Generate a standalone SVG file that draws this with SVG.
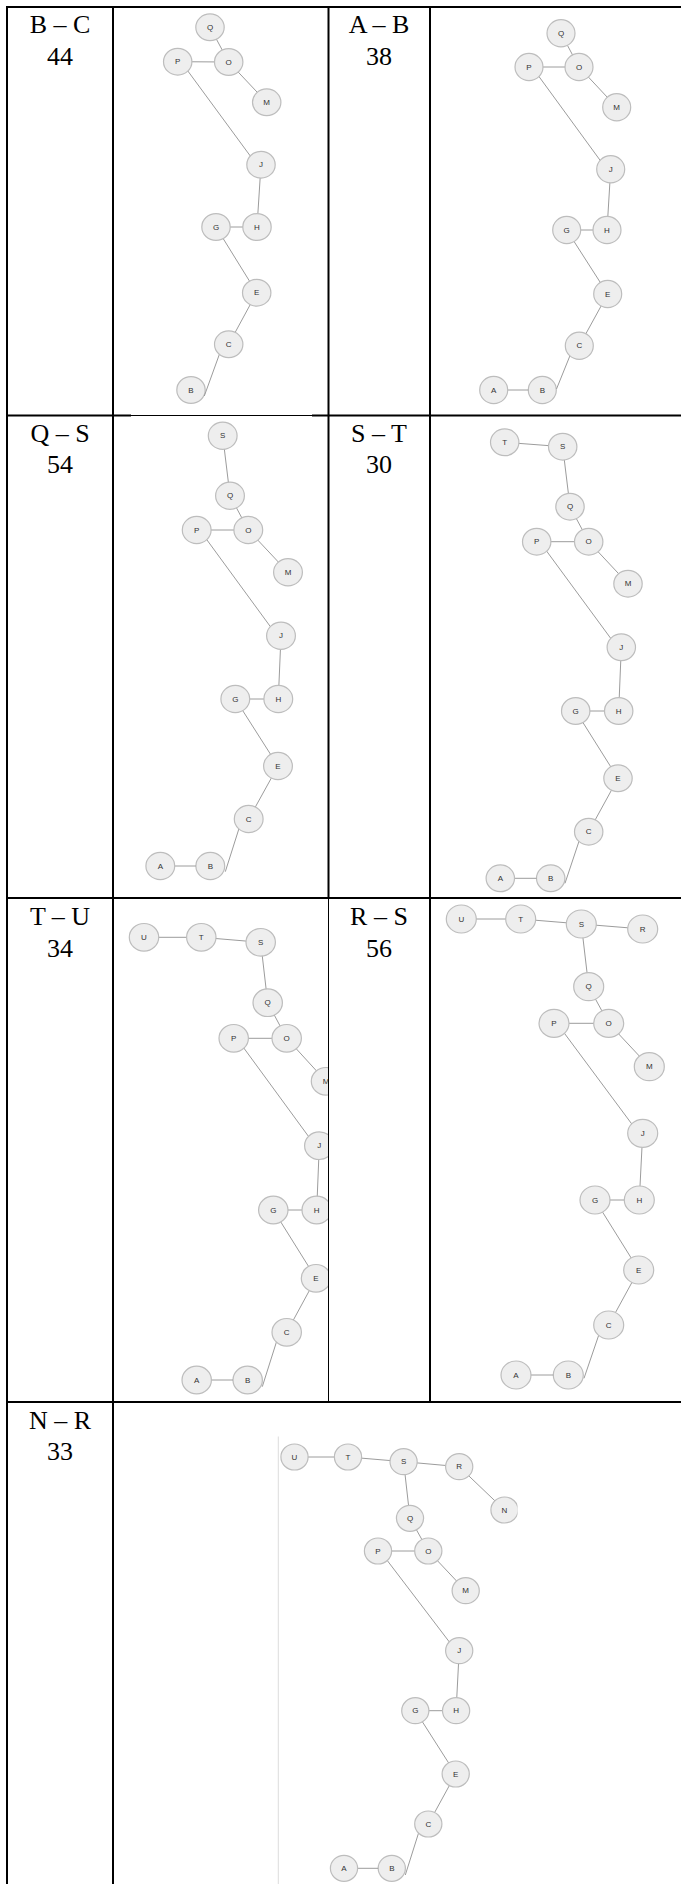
<svg xmlns="http://www.w3.org/2000/svg" width="681" height="1884" viewBox="0 0 681 1884">
<style>
.grid{stroke:#000;stroke-width:2;fill:none}
.thin{stroke:#000;stroke-width:1;fill:none}
.lbl{font-family:"Liberation Serif","Times New Roman",serif;font-size:26px;fill:#000;text-anchor:middle}
.edges line{stroke:#9c9c9c;stroke-width:1}
.node ellipse{fill:#eeeeee;stroke:#bdbdbd;stroke-width:1.2}
.node text{font-family:"Liberation Sans",Arial,sans-serif;font-size:8px;fill:#333;text-anchor:middle;dominant-baseline:central}
</style>
<defs>
<clipPath id="clip5"><rect x="114" y="899" width="214" height="502"/></clipPath>
<clipPath id="clip7"><rect x="114" y="1403" width="403.5" height="481"/></clipPath>
</defs>
<rect width="681" height="1884" fill="#fff"/>

<!-- Panel 1: B – C -->
<g id="panel1">
<g id="p1-B" class="node"><ellipse cx="191" cy="390" rx="14.2" ry="13.4"/><text x="191" y="390">B</text></g>
<g id="p1-edges" class="edges">
<line x1="210" y1="27.3" x2="228.7" y2="62"/>
<line x1="177.7" y1="61.7" x2="228.7" y2="62"/>
<line x1="228.7" y1="62" x2="266.7" y2="102.3"/>
<line x1="181" y1="61.7" x2="256.7" y2="164.7"/>
<line x1="261" y1="164.7" x2="257" y2="227"/>
<line x1="216" y1="227" x2="257" y2="227"/>
<line x1="216" y1="227" x2="256.7" y2="292.7"/>
<line x1="256.7" y1="292.7" x2="228.7" y2="344.3"/>
<line x1="223" y1="344.3" x2="204.3" y2="396"/>
</g>
<g id="p1-Q" class="node"><ellipse cx="210" cy="27.3" rx="14.2" ry="13.4"/><text x="210" y="27.3">Q</text></g>
<g id="p1-P" class="node"><ellipse cx="177.7" cy="61.7" rx="14.2" ry="13.4"/><text x="177.7" y="61.7">P</text></g>
<g id="p1-O" class="node"><ellipse cx="228.7" cy="62" rx="14.2" ry="13.4"/><text x="228.7" y="62">O</text></g>
<g id="p1-M" class="node"><ellipse cx="266.7" cy="102.3" rx="14.2" ry="13.4"/><text x="266.7" y="102.3">M</text></g>
<g id="p1-J" class="node"><ellipse cx="261" cy="164.7" rx="14.2" ry="13.4"/><text x="261" y="164.7">J</text></g>
<g id="p1-H" class="node"><ellipse cx="257" cy="227" rx="14.2" ry="13.4"/><text x="257" y="227">H</text></g>
<g id="p1-G" class="node"><ellipse cx="216" cy="227" rx="14.2" ry="13.4"/><text x="216" y="227">G</text></g>
<g id="p1-E" class="node"><ellipse cx="256.7" cy="292.7" rx="14.2" ry="13.4"/><text x="256.7" y="292.7">E</text></g>
<g id="p1-C" class="node"><ellipse cx="228.7" cy="344.3" rx="14.2" ry="13.4"/><text x="228.7" y="344.3">C</text></g>
</g>

<!-- Panel 2: A – B -->
<g id="panel2">
<g id="p2-B" class="node"><ellipse cx="542.3" cy="390" rx="14" ry="13.6"/><text x="542.3" y="390">B</text></g>
<g id="p2-edges" class="edges">
<line x1="561" y1="33.3" x2="579" y2="67"/>
<line x1="529" y1="67" x2="579" y2="67"/>
<line x1="579" y1="67" x2="616.7" y2="107.3"/>
<line x1="532" y1="67" x2="606.7" y2="169.3"/>
<line x1="610.7" y1="169.3" x2="607" y2="230"/>
<line x1="566.7" y1="230" x2="607" y2="230"/>
<line x1="566.7" y1="230" x2="607.7" y2="294"/>
<line x1="607.7" y1="294" x2="579.3" y2="345.7"/>
<line x1="574" y1="345.7" x2="556.5" y2="389"/>
<line x1="493.7" y1="390" x2="528.3" y2="390"/>
</g>
<g id="p2-Q" class="node"><ellipse cx="561" cy="33.3" rx="14" ry="13.6"/><text x="561" y="33.3">Q</text></g>
<g id="p2-P" class="node"><ellipse cx="529" cy="67" rx="14" ry="13.6"/><text x="529" y="67">P</text></g>
<g id="p2-O" class="node"><ellipse cx="579" cy="67" rx="14" ry="13.6"/><text x="579" y="67">O</text></g>
<g id="p2-M" class="node"><ellipse cx="616.7" cy="107.3" rx="14" ry="13.6"/><text x="616.7" y="107.3">M</text></g>
<g id="p2-J" class="node"><ellipse cx="610.7" cy="169.3" rx="14" ry="13.6"/><text x="610.7" y="169.3">J</text></g>
<g id="p2-H" class="node"><ellipse cx="607" cy="230" rx="14" ry="13.6"/><text x="607" y="230">H</text></g>
<g id="p2-G" class="node"><ellipse cx="566.7" cy="230" rx="14" ry="13.6"/><text x="566.7" y="230">G</text></g>
<g id="p2-E" class="node"><ellipse cx="607.7" cy="294" rx="14" ry="13.6"/><text x="607.7" y="294">E</text></g>
<g id="p2-C" class="node"><ellipse cx="579.3" cy="345.7" rx="14" ry="13.6"/><text x="579.3" y="345.7">C</text></g>
<g id="p2-A" class="node"><ellipse cx="493.7" cy="390" rx="14" ry="13.6"/><text x="493.7" y="390">A</text></g>
</g>

<!-- Panel 3: Q – S -->
<g id="panel3">
<g id="p3-B" class="node"><ellipse cx="210.3" cy="866" rx="14.4" ry="13.6"/><text x="210.3" y="866">B</text></g>
<g id="p3-edges" class="edges">
<line x1="222.7" y1="435.7" x2="230" y2="495.7"/>
<line x1="230" y1="495.7" x2="248.3" y2="530"/>
<line x1="196.7" y1="530" x2="248.3" y2="530"/>
<line x1="248.3" y1="530" x2="288" y2="572.3"/>
<line x1="199.7" y1="530" x2="277" y2="635.7"/>
<line x1="281" y1="635.7" x2="278.3" y2="699"/>
<line x1="235.3" y1="699" x2="278.3" y2="699"/>
<line x1="235.3" y1="699" x2="278" y2="766"/>
<line x1="278" y1="766" x2="248.7" y2="819"/>
<line x1="242" y1="819" x2="225.3" y2="871.7"/>
<line x1="160.3" y1="866" x2="195.9" y2="866"/>
</g>
<g id="p3-S" class="node"><ellipse cx="222.7" cy="435.7" rx="14.4" ry="13.6"/><text x="222.7" y="435.7">S</text></g>
<g id="p3-Q" class="node"><ellipse cx="230" cy="495.7" rx="14.4" ry="13.6"/><text x="230" y="495.7">Q</text></g>
<g id="p3-P" class="node"><ellipse cx="196.7" cy="530" rx="14.4" ry="13.6"/><text x="196.7" y="530">P</text></g>
<g id="p3-O" class="node"><ellipse cx="248.3" cy="530" rx="14.4" ry="13.6"/><text x="248.3" y="530">O</text></g>
<g id="p3-M" class="node"><ellipse cx="288" cy="572.3" rx="14.4" ry="13.6"/><text x="288" y="572.3">M</text></g>
<g id="p3-J" class="node"><ellipse cx="281" cy="635.7" rx="14.4" ry="13.6"/><text x="281" y="635.7">J</text></g>
<g id="p3-H" class="node"><ellipse cx="278.3" cy="699" rx="14.4" ry="13.6"/><text x="278.3" y="699">H</text></g>
<g id="p3-G" class="node"><ellipse cx="235.3" cy="699" rx="14.4" ry="13.6"/><text x="235.3" y="699">G</text></g>
<g id="p3-E" class="node"><ellipse cx="278" cy="766" rx="14.4" ry="13.6"/><text x="278" y="766">E</text></g>
<g id="p3-C" class="node"><ellipse cx="248.7" cy="819" rx="14.4" ry="13.6"/><text x="248.7" y="819">C</text></g>
<g id="p3-A" class="node"><ellipse cx="160.3" cy="866" rx="14.4" ry="13.6"/><text x="160.3" y="866">A</text></g>
</g>

<!-- Panel 4: S – T -->
<g id="panel4">
<g id="p4-B" class="node"><ellipse cx="550.7" cy="878.3" rx="14.2" ry="13.4"/><text x="550.7" y="878.3">B</text></g>
<g id="p4-edges" class="edges">
<line x1="504.7" y1="442.3" x2="562.7" y2="446.7"/>
<line x1="562.7" y1="446.7" x2="570" y2="506.7"/>
<line x1="570" y1="506.7" x2="588.7" y2="541.7"/>
<line x1="536.7" y1="541.7" x2="588.7" y2="541.7"/>
<line x1="588.7" y1="541.7" x2="628" y2="583.7"/>
<line x1="539.7" y1="541.7" x2="617.3" y2="647.3"/>
<line x1="621.3" y1="647.3" x2="618.7" y2="711"/>
<line x1="575.7" y1="711" x2="618.7" y2="711"/>
<line x1="575.7" y1="711" x2="618" y2="778.3"/>
<line x1="618" y1="778.3" x2="588.7" y2="831.7"/>
<line x1="582.2" y1="831.7" x2="565" y2="883.3"/>
<line x1="500.3" y1="878.3" x2="536.5" y2="878.3"/>
</g>
<g id="p4-T" class="node"><ellipse cx="504.7" cy="442.3" rx="14.2" ry="13.4"/><text x="504.7" y="442.3">T</text></g>
<g id="p4-S" class="node"><ellipse cx="562.7" cy="446.7" rx="14.2" ry="13.4"/><text x="562.7" y="446.7">S</text></g>
<g id="p4-Q" class="node"><ellipse cx="570" cy="506.7" rx="14.2" ry="13.4"/><text x="570" y="506.7">Q</text></g>
<g id="p4-P" class="node"><ellipse cx="536.7" cy="541.7" rx="14.2" ry="13.4"/><text x="536.7" y="541.7">P</text></g>
<g id="p4-O" class="node"><ellipse cx="588.7" cy="541.7" rx="14.2" ry="13.4"/><text x="588.7" y="541.7">O</text></g>
<g id="p4-M" class="node"><ellipse cx="628" cy="583.7" rx="14.2" ry="13.4"/><text x="628" y="583.7">M</text></g>
<g id="p4-J" class="node"><ellipse cx="621.3" cy="647.3" rx="14.2" ry="13.4"/><text x="621.3" y="647.3">J</text></g>
<g id="p4-H" class="node"><ellipse cx="618.7" cy="711" rx="14.2" ry="13.4"/><text x="618.7" y="711">H</text></g>
<g id="p4-G" class="node"><ellipse cx="575.7" cy="711" rx="14.2" ry="13.4"/><text x="575.7" y="711">G</text></g>
<g id="p4-E" class="node"><ellipse cx="618" cy="778.3" rx="14.2" ry="13.4"/><text x="618" y="778.3">E</text></g>
<g id="p4-C" class="node"><ellipse cx="588.7" cy="831.7" rx="14.2" ry="13.4"/><text x="588.7" y="831.7">C</text></g>
<g id="p4-A" class="node"><ellipse cx="500.3" cy="878.3" rx="14.2" ry="13.4"/><text x="500.3" y="878.3">A</text></g>
</g>

<!-- Panel 5: T – U (clipped at right) -->
<g id="panel5" clip-path="url(#clip5)">
<g id="p5-B" class="node"><ellipse cx="247.7" cy="1380" rx="14.7" ry="13.8"/><text x="247.7" y="1380">B</text></g>
<g id="p5-edges" class="edges">
<line x1="144" y1="937.3" x2="201.3" y2="937.3"/>
<line x1="201.3" y1="937.3" x2="260.7" y2="942.3"/>
<line x1="260.7" y1="942.3" x2="267.7" y2="1002.7"/>
<line x1="267.7" y1="1002.7" x2="286.7" y2="1038.3"/>
<line x1="233.7" y1="1038.3" x2="286.7" y2="1038.3"/>
<line x1="286.7" y1="1038.3" x2="326" y2="1081.3"/>
<line x1="236.7" y1="1038.3" x2="315.3" y2="1145.7"/>
<line x1="319.3" y1="1145.7" x2="316.7" y2="1210"/>
<line x1="273.3" y1="1210" x2="316.7" y2="1210"/>
<line x1="273.3" y1="1210" x2="316" y2="1278.3"/>
<line x1="316" y1="1278.3" x2="286.7" y2="1332.3"/>
<line x1="279.5" y1="1332.3" x2="262.3" y2="1386.7"/>
<line x1="196.7" y1="1380" x2="233" y2="1380"/>
</g>
<g id="p5-U" class="node"><ellipse cx="144" cy="937.3" rx="14.7" ry="13.8"/><text x="144" y="937.3">U</text></g>
<g id="p5-T" class="node"><ellipse cx="201.3" cy="937.3" rx="14.7" ry="13.8"/><text x="201.3" y="937.3">T</text></g>
<g id="p5-S" class="node"><ellipse cx="260.7" cy="942.3" rx="14.7" ry="13.8"/><text x="260.7" y="942.3">S</text></g>
<g id="p5-Q" class="node"><ellipse cx="267.7" cy="1002.7" rx="14.7" ry="13.8"/><text x="267.7" y="1002.7">Q</text></g>
<g id="p5-P" class="node"><ellipse cx="233.7" cy="1038.3" rx="14.7" ry="13.8"/><text x="233.7" y="1038.3">P</text></g>
<g id="p5-O" class="node"><ellipse cx="286.7" cy="1038.3" rx="14.7" ry="13.8"/><text x="286.7" y="1038.3">O</text></g>
<g id="p5-M" class="node"><ellipse cx="326" cy="1081.3" rx="14.7" ry="13.8"/><text x="326" y="1081.3">M</text></g>
<g id="p5-J" class="node"><ellipse cx="319.3" cy="1145.7" rx="14.7" ry="13.8"/><text x="319.3" y="1145.7">J</text></g>
<g id="p5-H" class="node"><ellipse cx="316.7" cy="1210" rx="14.7" ry="13.8"/><text x="316.7" y="1210">H</text></g>
<g id="p5-G" class="node"><ellipse cx="273.3" cy="1210" rx="14.7" ry="13.8"/><text x="273.3" y="1210">G</text></g>
<g id="p5-E" class="node"><ellipse cx="316" cy="1278.3" rx="14.7" ry="13.8"/><text x="316" y="1278.3">E</text></g>
<g id="p5-C" class="node"><ellipse cx="286.7" cy="1332.3" rx="14.7" ry="13.8"/><text x="286.7" y="1332.3">C</text></g>
<g id="p5-A" class="node"><ellipse cx="196.7" cy="1380" rx="14.7" ry="13.8"/><text x="196.7" y="1380">A</text></g>
</g>

<!-- Panel 6: R – S -->
<g id="panel6">
<g id="p6-B" class="node"><ellipse cx="568.3" cy="1375" rx="15" ry="14"/><text x="568.3" y="1375">B</text></g>
<g id="p6-edges" class="edges">
<line x1="461.3" y1="919" x2="520.7" y2="919"/>
<line x1="520.7" y1="919" x2="581.3" y2="924"/>
<line x1="581.3" y1="924" x2="642.7" y2="929"/>
<line x1="581.3" y1="924" x2="588.7" y2="986.7"/>
<line x1="588.7" y1="986.7" x2="608.7" y2="1023.3"/>
<line x1="554" y1="1023.3" x2="608.7" y2="1023.3"/>
<line x1="608.7" y1="1023.3" x2="649.3" y2="1066.7"/>
<line x1="557" y1="1023.3" x2="638.7" y2="1133.3"/>
<line x1="642.7" y1="1133.3" x2="639.3" y2="1200"/>
<line x1="595" y1="1200" x2="639.3" y2="1200"/>
<line x1="595" y1="1200" x2="638.7" y2="1270"/>
<line x1="638.7" y1="1270" x2="608.7" y2="1325"/>
<line x1="602.2" y1="1325" x2="584" y2="1378.3"/>
<line x1="516" y1="1375" x2="553.3" y2="1375"/>
</g>
<g id="p6-U" class="node"><ellipse cx="461.3" cy="919" rx="15" ry="14"/><text x="461.3" y="919">U</text></g>
<g id="p6-T" class="node"><ellipse cx="520.7" cy="919" rx="15" ry="14"/><text x="520.7" y="919">T</text></g>
<g id="p6-S" class="node"><ellipse cx="581.3" cy="924" rx="15" ry="14"/><text x="581.3" y="924">S</text></g>
<g id="p6-R" class="node"><ellipse cx="642.7" cy="929" rx="15" ry="14"/><text x="642.7" y="929">R</text></g>
<g id="p6-Q" class="node"><ellipse cx="588.7" cy="986.7" rx="15" ry="14"/><text x="588.7" y="986.7">Q</text></g>
<g id="p6-P" class="node"><ellipse cx="554" cy="1023.3" rx="15" ry="14"/><text x="554" y="1023.3">P</text></g>
<g id="p6-O" class="node"><ellipse cx="608.7" cy="1023.3" rx="15" ry="14"/><text x="608.7" y="1023.3">O</text></g>
<g id="p6-M" class="node"><ellipse cx="649.3" cy="1066.7" rx="15" ry="14"/><text x="649.3" y="1066.7">M</text></g>
<g id="p6-J" class="node"><ellipse cx="642.7" cy="1133.3" rx="15" ry="14"/><text x="642.7" y="1133.3">J</text></g>
<g id="p6-H" class="node"><ellipse cx="639.3" cy="1200" rx="15" ry="14"/><text x="639.3" y="1200">H</text></g>
<g id="p6-G" class="node"><ellipse cx="595" cy="1200" rx="15" ry="14"/><text x="595" y="1200">G</text></g>
<g id="p6-E" class="node"><ellipse cx="638.7" cy="1270" rx="15" ry="14"/><text x="638.7" y="1270">E</text></g>
<g id="p6-C" class="node"><ellipse cx="608.7" cy="1325" rx="15" ry="14"/><text x="608.7" y="1325">C</text></g>
<g id="p6-A" class="node"><ellipse cx="516" cy="1375" rx="15" ry="14"/><text x="516" y="1375">A</text></g>
</g>

<!-- Panel 7: N – R -->
<line x1="278.3" y1="1436.5" x2="278.3" y2="1884" stroke="#dcdcdc" stroke-width="1"/>
<g id="panel7" clip-path="url(#clip7)">
<g id="p7-B" class="node"><ellipse cx="391.8" cy="1868.3" rx="13.6" ry="13"/><text x="391.8" y="1868.3">B</text></g>
<g id="p7-edges" class="edges">
<line x1="294.5" y1="1457" x2="348" y2="1457"/>
<line x1="348" y1="1457" x2="403.6" y2="1461.7"/>
<line x1="403.6" y1="1461.7" x2="459.2" y2="1466.7"/>
<line x1="459.2" y1="1466.7" x2="504.5" y2="1510"/>
<line x1="403.6" y1="1461.7" x2="410" y2="1518.3"/>
<line x1="410" y1="1518.3" x2="428.3" y2="1551"/>
<line x1="378" y1="1551" x2="428.3" y2="1551"/>
<line x1="428.3" y1="1551" x2="465.7" y2="1590.7"/>
<line x1="380" y1="1551" x2="456" y2="1650.7"/>
<line x1="459.2" y1="1650.7" x2="456.1" y2="1710.7"/>
<line x1="415.3" y1="1710.7" x2="456.1" y2="1710.7"/>
<line x1="415.3" y1="1710.7" x2="455.7" y2="1774"/>
<line x1="455.7" y1="1774" x2="428.3" y2="1824"/>
<line x1="421.4" y1="1824" x2="405.3" y2="1875"/>
<line x1="344" y1="1868.3" x2="378.2" y2="1868.3"/>
</g>
<g id="p7-U" class="node"><ellipse cx="294.5" cy="1457" rx="13.6" ry="13"/><text x="294.5" y="1457">U</text></g>
<g id="p7-T" class="node"><ellipse cx="348" cy="1457" rx="13.6" ry="13"/><text x="348" y="1457">T</text></g>
<g id="p7-S" class="node"><ellipse cx="403.6" cy="1461.7" rx="13.6" ry="13"/><text x="403.6" y="1461.7">S</text></g>
<g id="p7-R" class="node"><ellipse cx="459.2" cy="1466.7" rx="13.6" ry="13"/><text x="459.2" y="1466.7">R</text></g>
<g id="p7-N" class="node"><ellipse cx="504.5" cy="1510" rx="13.6" ry="13"/><text x="504.5" y="1510">N</text></g>
<g id="p7-Q" class="node"><ellipse cx="410" cy="1518.3" rx="13.6" ry="13"/><text x="410" y="1518.3">Q</text></g>
<g id="p7-P" class="node"><ellipse cx="378" cy="1551" rx="13.6" ry="13"/><text x="378" y="1551">P</text></g>
<g id="p7-O" class="node"><ellipse cx="428.3" cy="1551" rx="13.6" ry="13"/><text x="428.3" y="1551">O</text></g>
<g id="p7-M" class="node"><ellipse cx="465.7" cy="1590.7" rx="13.6" ry="13"/><text x="465.7" y="1590.7">M</text></g>
<g id="p7-J" class="node"><ellipse cx="459.2" cy="1650.7" rx="13.6" ry="13"/><text x="459.2" y="1650.7">J</text></g>
<g id="p7-H" class="node"><ellipse cx="456.1" cy="1710.7" rx="13.6" ry="13"/><text x="456.1" y="1710.7">H</text></g>
<g id="p7-G" class="node"><ellipse cx="415.3" cy="1710.7" rx="13.6" ry="13"/><text x="415.3" y="1710.7">G</text></g>
<g id="p7-E" class="node"><ellipse cx="455.7" cy="1774" rx="13.6" ry="13"/><text x="455.7" y="1774">E</text></g>
<g id="p7-C" class="node"><ellipse cx="428.3" cy="1824" rx="13.6" ry="13"/><text x="428.3" y="1824">C</text></g>
<g id="p7-A" class="node"><ellipse cx="344" cy="1868.3" rx="13.6" ry="13"/><text x="344" y="1868.3">A</text></g>
</g>

<!-- Table grid -->
<g id="grid">
<path class="grid" d="M6 7H681M7 6V1884M113 6V1884M328.5 6V898M430 6V1402"/>
<path class="grid" d="M6 415.5H131M312 415.5H681M6 898H681M6 1402H681"/>
<path class="thin" d="M131 415.5H312M328.5 898V1402"/>
</g>

<!-- Row labels -->
<g id="labels">
<text class="lbl" x="60" y="33">B – C</text>
<text class="lbl" x="60" y="65">44</text>
<text class="lbl" x="379" y="32.5">A – B</text>
<text class="lbl" x="379" y="64.5">38</text>
<text class="lbl" x="60" y="442">Q – S</text>
<text class="lbl" x="60" y="473">54</text>
<text class="lbl" x="379" y="442">S – T</text>
<text class="lbl" x="379" y="473">30</text>
<text class="lbl" x="60" y="925">T – U</text>
<text class="lbl" x="60" y="957">34</text>
<text class="lbl" x="379" y="925">R – S</text>
<text class="lbl" x="379" y="957">56</text>
<text class="lbl" x="60" y="1429">N – R</text>
<text class="lbl" x="60" y="1460">33</text>
</g>
</svg>
